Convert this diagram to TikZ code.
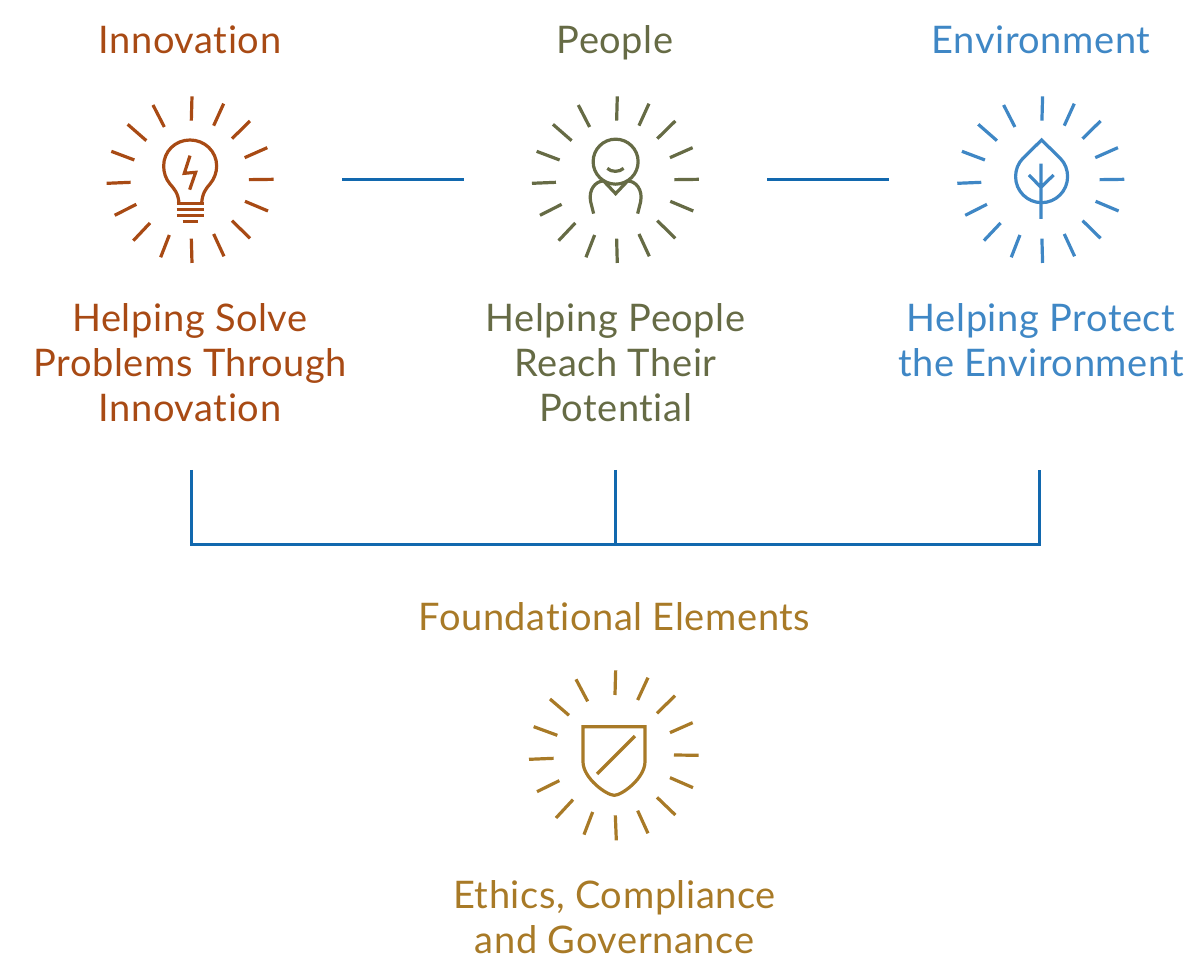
\documentclass[tikz,border=0pt]{standalone}
\usepackage{fontspec}
\setmainfont[LetterSpace=1.6,Ligatures=NoCommon]{Lato}
\definecolor{cinno}{HTML}{A84A14}
\definecolor{cpeop}{HTML}{666B45}
\definecolor{cenv}{HTML}{3F87C5}
\definecolor{cfound}{HTML}{A87A27}
\definecolor{clink}{HTML}{1268AE}
\newcommand{\raysA}{%
 \draw[iconline] (291,34)--(289,107) (386,56)--(356,122) (465,108)--(411,161) (517,188)--(449,218)
 (536,283)--(462,284) (519,378)--(450,349) (465,460)--(411,407) (387,514)--(356,447)
 (291,534)--(289,461) (197,517)--(223,450) (115,467)--(165,414) (59,391)--(124,358)
 (35,295)--(107,292) (49,199)--(118,225) (98,118)--(154,167) (174,60)--(208,126);}
\tikzset{
 x=1pt,y=-1pt,
 label/.style={font=\fontsize{38}{45}\selectfont,align=center,inner sep=0pt,text depth=0pt},
 iconline/.style={line width=3.2pt},
 zoomed/.style={x=0.3333pt,y=-0.3333pt},
 link/.style={draw=clink,line width=3pt},
}
\begin{document}
\begin{tikzpicture}
\useasboundingbox (0,0) rectangle (1184,957);
% headings
\node[label,text=cinno] (h1) at (190,39.5) {Innovation};
\node[label,text=cpeop] (h2) at (615,39.5) {People};
\node[label,text=cenv] (h3) at (1041,39.5) {Environment};
\node[label,text=cinno] (t1) at (190,362.5) {Helping Solve\\Problems Through\\Innovation};
\node[label,text=cpeop] (t2) at (615.5,362.5) {Helping People\\Reach Their\\Potential};
\node[label,text=cenv] (t3) at (1041,340) {Helping Protect\\the Environment};
\node[label,text=cfound] (h4) at (614.5,616.5) {Foundational Elements};
\node[label,text=cfound] (t4) at (614.5,917.5) {Ethics, Compliance\\and Governance};
% bulb
\begin{scope}[shift={(95,85)},zoomed,draw=cinno]
 \raysA
 \draw[iconline] (252,355) .. controls (250,325) and (238,312) .. (225,297)
   .. controls (212,282) and (206,262) .. (206,243)
   .. controls (206,199) and (241,165) .. (285,165)
   .. controls (329,165) and (365,199) .. (365,243)
   .. controls (365,262) and (358,282) .. (345,297)
   .. controls (332,312) and (322,325) .. (320,355);
 \draw[iconline] (245,355)--(327,355) (245,373)--(327,373) (245,392)--(327,392) (263,409)--(309,409);
 \draw[iconline] (285,212)--(268,265)--(302,262)--(284,314);
\end{scope}
% person
\begin{scope}[shift={(520.3,85)},zoomed,draw=cpeop]
 \raysA
 \draw[iconline] (286,230) circle[radius=22.5pt];
 \draw[iconline] (261,250) .. controls (272,262) and (298,262) .. (310,250);
 \draw[iconline] (220,386) -- (211,350) .. controls (204,315) and (225,288) .. (250,288)
   -- (286,326) -- (322,288) .. controls (347,288) and (368,315) .. (361,350) -- (352,386);
\end{scope}
% leaf
\begin{scope}[shift={(945.6,85)},zoomed,draw=cenv]
 \raysA
 \draw[iconline] (288,165) -- (232,220) .. controls (217,235) and (210,255) .. (210,275)
   .. controls (210,318) and (245,353) .. (288,353)
   .. controls (331,353) and (366,318) .. (366,275)
   .. controls (366,255) and (359,235) .. (344,220) -- cycle;
 \draw[iconline] (286,236)--(286,402) (250,270)--(286,307)--(324,270);
\end{scope}
% shield
\begin{scope}[shift={(520,660)},zoomed,draw=cfound]
 \draw[iconline] (287,31)--(285,105) (384,53)--(353,120) (465,107)--(411,160) (518,188)--(450,218)
 (536,286)--(462,285) (519,383)--(450,353) (466,465)--(411,412) (384,520)--(353,452)
 (289,541)--(286,466) (192,524)--(218,456) (108,474)--(159,419) (51,395)--(118,362)
 (27,298)--(101,295) (41,200)--(112,226) (90,117)--(147,166) (168,58)--(203,124);
 \draw[iconline] (189,200) -- (375,200) -- (375,305)
   .. controls (375,355) and (305,406) .. (283,406)
   .. controls (260,406) and (189,355) .. (189,305) -- cycle;
 \draw[iconline] (231,342)--(345,228);
\end{scope}
% connectors
\coordinate (a1) at (342,180); \coordinate (a2) at (464,180);
\coordinate (b1) at (767,180); \coordinate (b2) at (889,180);
\coordinate (c1) at (191,470); \coordinate (c2) at (191,544);
\coordinate (c3) at (1039.5,544); \coordinate (c4) at (1039.5,470);
\coordinate (d1) at (615,470); \coordinate (d2) at (615,544);
\draw[link] (a1)--(a2);
\draw[link] (b1)--(b2);
\draw[link] (c1)--(c2)--(c3)--(c4);
\draw[link] (d1)--(d2);
\end{tikzpicture}
\end{document}
